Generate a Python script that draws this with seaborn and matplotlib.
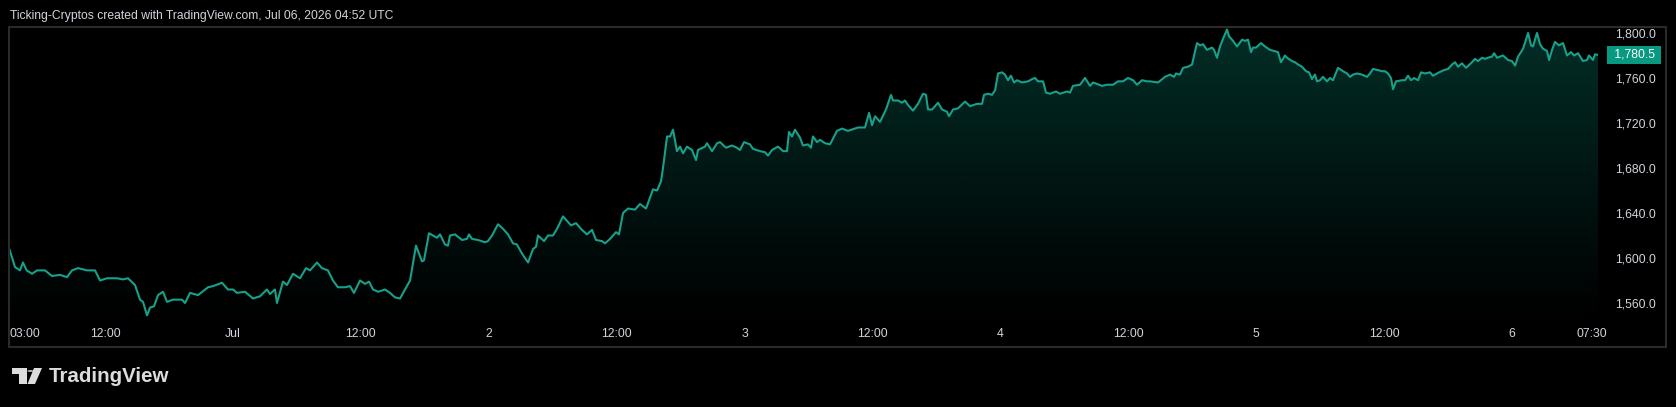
import numpy as np
import pandas as pd
import matplotlib
matplotlib.use("Agg")
import matplotlib.pyplot as plt
import matplotlib.dates as mdates
from matplotlib.patches import Rectangle, Polygon, Circle
import seaborn as sns

# price, hours counted from Jun 30 03:00
START = "2026-06-30 03:00"
hours = [0.0, 0.56, 1.03, 1.31, 1.66, 2.16, 2.63, 3.38, 4.03, 4.78, 5.44, 5.91, 6.47, 7.32,
         8.07, 8.54, 9.19, 10.13, 10.69, 11.16, 11.82, 12.29, 12.57, 12.95, 13.23, 13.60,
         13.98, 14.45, 14.82, 15.38, 16.23, 16.51, 16.98, 17.73, 18.39, 18.67, 19.14, 19.98,
         20.54, 21.01, 21.39, 22.14, 22.89, 23.55, 24.20, 24.48, 24.95, 25.14, 25.70, 26.08,
         26.64, 27.30, 27.86, 28.24, 28.89, 29.36, 29.92, 30.39, 30.86, 31.52, 31.99, 32.36,
         32.93, 33.40, 33.77, 34.15, 34.62, 35.27, 35.74, 36.21, 36.68, 37.15, 37.62, 38.18,
         38.74, 38.93, 39.40, 40.15, 40.43, 40.90, 41.18, 41.37, 41.84, 42.50, 42.96, 43.15,
         43.43, 44.00, 44.65, 44.93, 45.31, 45.87, 46.34, 46.81, 47.28, 47.65, 48.12, 48.69,
         49.16, 49.44, 49.62, 50.19, 50.56, 51.03, 51.41, 51.97, 52.35, 52.72, 53.19, 53.75,
         54.22, 54.69, 55.07, 55.63, 55.91, 56.38, 56.94, 57.22, 57.60, 58.07, 58.72, 59.19,
         59.76, 60.41, 60.79, 61.16, 61.35, 61.73, 62.01, 62.29, 62.66, 62.95, 63.23, 63.60,
         64.07, 64.45, 64.63, 65.29, 65.48, 65.95, 66.42, 66.70, 67.26, 67.82, 68.29, 68.57,
         68.95, 69.51, 69.79, 70.45, 70.92, 71.20, 71.58, 72.14, 72.61, 72.98, 73.17, 73.45,
         73.73, 74.20, 74.48, 74.95, 75.23, 75.42, 75.80, 76.08, 76.55, 77.02, 77.67, 78.14,
         78.71, 79.64, 80.30, 80.68, 80.96, 81.24, 81.71, 82.27, 82.74, 82.93, 83.40, 83.77,
         84.05, 84.33, 84.80, 85.27, 85.74, 86.02, 86.21, 86.59, 86.87, 87.15, 87.52, 87.99,
         88.18, 88.56, 89.02, 89.68, 90.15, 90.81, 91.28, 91.46, 91.84, 92.21, 92.50, 92.78,
         93.15, 93.43, 93.71, 93.99, 94.28, 94.56, 95.03, 95.59, 95.97, 96.25, 96.53, 97.00,
         97.28, 97.65, 98.22, 98.59, 99.25, 99.53, 99.81, 100.47, 100.94, 101.41, 101.69,
         102.53, 103.00, 103.56, 104.03, 104.50, 104.97, 105.44, 105.82, 106.29, 106.75,
         107.04, 107.79, 108.44, 108.91, 109.29, 109.47, 109.85, 110.13, 110.60, 110.98,
         111.44, 111.73, 112.01, 112.38, 112.85, 113.04, 113.32, 113.60, 113.98, 114.26,
         114.45, 114.82, 115.20, 115.67, 115.95, 116.23, 116.51, 116.70, 116.98, 117.45,
         117.82, 118.29, 118.67, 119.04, 119.32, 119.70, 119.89, 120.36, 120.64, 120.92,
         121.29, 121.67, 121.95, 122.23, 122.51, 122.70, 122.98, 123.26, 123.64, 123.92,
         124.20, 124.67, 125.14, 125.52, 125.80, 126.08, 126.45, 126.92, 127.39, 127.67,
         127.95, 128.42, 128.80, 129.08, 129.36, 129.64, 129.83, 130.11, 130.68, 130.96,
         131.24, 131.52, 131.80, 132.18, 132.46, 132.83, 133.30, 133.58, 134.15, 134.62,
         134.99, 135.37, 135.65, 135.93, 136.30, 136.68, 137.24, 137.52, 137.80, 138.18,
         138.46, 138.74, 139.12, 139.31, 139.59, 140.15, 140.62, 140.99, 141.28, 141.56,
         142.03, 142.50, 142.78, 142.96, 143.34, 143.62, 143.90, 144.28, 144.47, 144.75,
         145.03, 145.40, 145.78, 146.15, 146.53, 146.81, 147.19, 147.65, 148.03, 148.22,
         148.59, 148.78, 149.06]
price = [1609, 1592, 1589, 1596, 1589, 1586, 1589, 1589, 1584, 1585, 1583, 1589, 1591, 1589,
         1589, 1580, 1582, 1582, 1581, 1582, 1576, 1563, 1561, 1549, 1556, 1557,
         1567, 1570, 1561, 1563, 1563, 1560, 1569, 1567, 1572, 1574, 1575, 1578,
         1572, 1572, 1569, 1570, 1564, 1566, 1572, 1568, 1572, 1560, 1579, 1576,
         1586, 1582, 1591, 1589, 1596, 1591, 1589, 1580, 1574, 1574, 1575, 1569,
         1580, 1577, 1579, 1572, 1570, 1572, 1569, 1565, 1564, 1572, 1580, 1611,
         1597, 1598, 1622, 1618, 1621, 1612, 1611, 1620, 1621, 1616, 1617, 1621,
         1617, 1616, 1614, 1615, 1620, 1630, 1626, 1621, 1613, 1612, 1604, 1596,
         1608, 1610, 1620, 1615, 1620, 1620, 1626, 1637, 1633, 1629, 1631, 1625,
         1621, 1625, 1616, 1615, 1613, 1617, 1623, 1621, 1640, 1644, 1643, 1648,
         1644, 1661, 1660, 1668, 1680, 1708, 1708, 1714, 1695, 1699, 1693, 1699,
         1696, 1687, 1696, 1699, 1702, 1695, 1702, 1703, 1698, 1700, 1698, 1696,
         1703, 1701, 1697, 1695, 1694, 1691, 1696, 1699, 1695, 1695, 1712, 1708,
         1714, 1707, 1700, 1701, 1698, 1708, 1703, 1705, 1702, 1701, 1713, 1715,
         1713, 1716, 1716, 1729, 1718, 1726, 1721, 1732, 1745, 1740, 1740, 1738,
         1740, 1736, 1731, 1737, 1746, 1745, 1732, 1732, 1735, 1738, 1732, 1730,
         1726, 1732, 1733, 1739, 1735, 1737, 1737, 1745, 1746, 1745, 1749, 1764,
         1765, 1763, 1758, 1762, 1756, 1758, 1756, 1757, 1759, 1760, 1757, 1757,
         1747, 1746, 1748, 1746, 1748, 1747, 1753, 1754, 1760, 1753, 1756,
         1753, 1754, 1754, 1757, 1757, 1760, 1758, 1754, 1758, 1757,
         1757, 1756, 1761, 1763, 1761, 1764, 1763, 1769, 1770, 1772,
         1791, 1789, 1790, 1785, 1787, 1785, 1778, 1788, 1797, 1803,
         1797, 1793, 1788, 1794, 1793, 1794, 1783, 1787, 1787, 1791,
         1788, 1785, 1784, 1783, 1774, 1780, 1778, 1775, 1774, 1772,
         1770, 1766, 1765, 1759, 1763, 1757, 1758, 1761, 1757, 1760,
         1758, 1769, 1766, 1764, 1761, 1763, 1764, 1763, 1761, 1764,
         1768, 1767, 1766, 1766, 1764, 1760, 1750, 1757, 1758, 1758,
         1762, 1758, 1760, 1758, 1765, 1764, 1765, 1762, 1765, 1767,
         1768, 1772, 1774, 1770, 1773, 1769, 1774, 1777, 1775, 1778,
         1777, 1778, 1779, 1782, 1778, 1780, 1776, 1775, 1771, 1779,
         1786, 1800, 1789, 1788, 1800, 1790, 1786, 1784, 1776, 1785,
         1792, 1789, 1791, 1780, 1783, 1780, 1782, 1775, 1776, 1780,
         1776, 1781, 1780.5]
last_price = 1780.5

tick_hours = [0, 9, 21, 33, 45, 57, 69, 81, 93, 105, 117, 129, 141, 148.5]
tick_labels = ["03:00", "12:00", "Jul", "12:00", "2", "12:00", "3", "12:00",
               "4", "12:00", "5", "12:00", "6", "07:30"]
y_ticks = [1560, 1600, 1640, 1680, 1720, 1760, 1800]

header = "Ticking-Cryptos created with TradingView.com, Jul 06, 2026 04:52 UTC"

LINE = "#17a08a"
TXT = "#d1d4dc"
W, H = 1676, 407

sns.set_theme(style="dark")
plt.rcParams["font.family"] = ["Liberation Sans", "DejaVu Sans"]
plt.rcParams["axes.facecolor"] = "black"
plt.rcParams["figure.facecolor"] = "black"

t0 = pd.Timestamp(START)
df = pd.DataFrame({"time": t0 + pd.to_timedelta(hours, unit="h"), "price": price})

fig = plt.figure(figsize=(W / 100, H / 100), dpi=100)
ax = fig.add_axes([9 / W, 1 - 320 / H, (1598 - 9) / W, (320 - 27) / H])
ax.set_facecolor("black")

xmin, xmax = mdates.date2num(df["time"].iloc[0]), mdates.date2num(df["time"].iloc[-1])
ymin, ymax = 1544.9, 1805.3

# gradient under the line
grad = np.zeros((256, 1, 4))
grad[..., 0] = 8 / 255
grad[..., 1] = 153 / 255
grad[..., 2] = 129 / 255
grad[:, 0, 3] = np.linspace(0.30, 0.0, 256)
area = ax.fill_between(df["time"], df["price"], ymin, facecolor="none", edgecolor="none")
im = ax.imshow(grad, extent=[xmin, xmax, ymin, ymax], aspect="auto", origin="upper", zorder=1)
im.set_clip_path(area.get_paths()[0], transform=ax.transData)

sns.lineplot(data=df, x="time", y="price", ax=ax, color=LINE, linewidth=1.5, zorder=3)

ax.set_xlim(xmin, xmax)
ax.set_ylim(ymin, ymax)
ax.set_xlabel("")
ax.set_ylabel("")
ax.grid(False)
for s in ax.spines.values():
    s.set_visible(False)

ax.set_xticks([t0 + pd.Timedelta(hours=h) for h in tick_hours])
ax.set_xticklabels(tick_labels)
ax.tick_params(axis="x", length=0, pad=6, labelsize=8.8, labelcolor=TXT)
ax.get_xticklabels()[0].set_horizontalalignment("left")

ax.yaxis.tick_right()
ax.set_yticks(y_ticks)
ax.set_yticklabels([f"{v:,.1f}" for v in y_ticks])
ax.tick_params(axis="y", length=0, pad=12, labelsize=8.8, labelcolor=TXT)

# last price tag
ax.annotate(f" {last_price:,.1f} ", xy=(1, last_price), xycoords=("axes fraction", "data"),
            xytext=(9, 0), textcoords="offset points", ha="left", va="center",
            fontsize=8.8, color="white",
            bbox=dict(boxstyle="square,pad=0.25", fc="#089981", ec="none"))

# outer frame
fig.add_artist(Rectangle((9 / W, 1 - 347 / H), (1666 - 9) / W, (347 - 27) / H,
                         transform=fig.transFigure, fill=False, ec="#2a2a2a", lw=1.5))

fig.text(10 / W, 1 - 15.5 / H, header, ha="left", va="center", fontsize=8.7, color=TXT)

# TradingView logo
def px(x, y):
    return (x / W, 1 - y / H)

logo = "#dcdcdc"
fig.add_artist(Polygon([px(12, 368), px(27, 368), px(27, 384), px(19, 384), px(19, 374), px(12, 374)],
                       closed=True, transform=fig.transFigure, fc=logo, ec="none"))
fig.add_artist(Circle(px(30.5, 371), 3.2 / W, transform=fig.transFigure, fc=logo, ec="none"))
fig.add_artist(Polygon([px(34, 368), px(42, 368), px(35, 384), px(27.5, 384)],
                       closed=True, transform=fig.transFigure, fc=logo, ec="none"))
fig.text(49 / W, 1 - 376.5 / H, "TradingView", ha="left", va="center", fontsize=14.8,
         fontweight="bold", color=logo)

fig.savefig("out.png", dpi=100, facecolor="black")
